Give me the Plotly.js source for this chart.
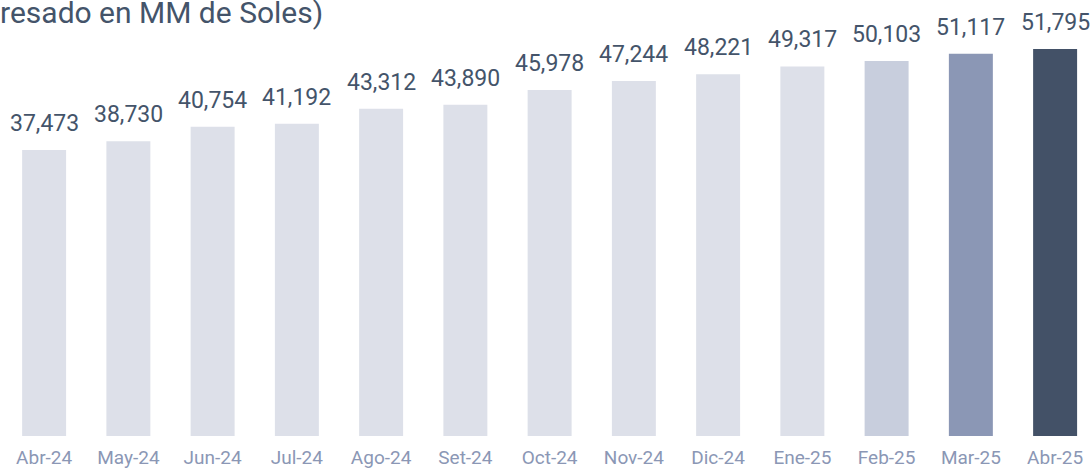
<!DOCTYPE html>
<html>
<head>
<meta charset="utf-8">
<script src="https://cdn.plot.ly/plotly-3.0.1.min.js"></script>
<style>html,body{margin:0;padding:0;background:#fff;overflow:hidden}#chart{width:1091px;height:469px}</style>
</head>
<body>
<div id="chart"></div>
<script>
const months = ["Abr-24","May-24","Jun-24","Jul-24","Ago-24","Set-24","Oct-24","Nov-24","Dic-24","Ene-25","Feb-25","Mar-25","Abr-25"];
const values = [37473,38730,40754,41192,43312,43890,45978,47244,48221,49317,50103,51117,51795];
const barColors = ["#dde0e9","#dde0e9","#dde0e9","#dde0e9","#dde0e9","#dde0e9","#dde0e9","#dde0e9","#dde0e9","#dde0e9","#c8cedd","#8b97b5","#435167"];
const titleText = "(Expresado en MM de Soles)";
const axisBase = -3083;

const fmt = v => v.toLocaleString("en-US");
const labelAnns = months.map((m, i) => ({
  x: m, y: values[i], xref: "x", yref: "y",
  text: fmt(values[i]), showarrow: false,
  xanchor: "center", yanchor: "bottom", yshift: 11,
  font: {family: "Roboto, sans-serif", size: 23, color: "#44546a"}
}));
labelAnns.push({
  xref: "paper", yref: "paper", x: (325 - 2) / 1089, y: 1 - 32 / 436,
  xanchor: "right", yanchor: "bottom", showarrow: false,
  text: titleText,
  font: {family: "Roboto, sans-serif", size: 30, color: "#44546a"}
});

const trace = {
  type: "bar", x: months, y: values.map(v => v - axisBase), base: axisBase,
  marker: {color: barColors},
  hoverinfo: "x"
};

const layout = {
  width: 1091, height: 469,
  margin: {l: 2, r: 0, t: 0, b: 33},
  paper_bgcolor: "#ffffff", plot_bgcolor: "#ffffff",
  bargap: 0.478,
  showlegend: false,
  xaxis: {
    type: "category", range: [-0.5, 12.426],
    showgrid: false, zeroline: false, showline: false,
    ticks: "outside", ticklen: 4, tickcolor: "rgba(0,0,0,0)",
    tickfont: {family: "Roboto, sans-serif", size: 19, color: "#8b97b5"}
  },
  yaxis: {
    range: [axisBase, 58743],
    visible: false, showgrid: false, zeroline: false
  },
  annotations: labelAnns
};

Plotly.newPlot("chart", [trace], layout, {displayModeBar: false, staticPlot: true});
</script>
</body>
</html>
